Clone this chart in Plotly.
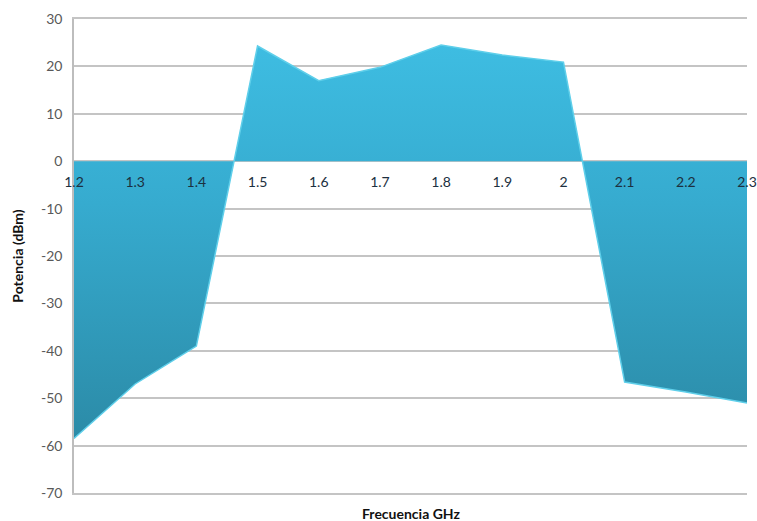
import plotly.graph_objects as go

# Frecuencia (GHz) y potencia medida (dBm)
frecuencia = [1.2, 1.3, 1.4, 1.5, 1.6, 1.7, 1.8, 1.9, 2.0, 2.1, 2.2, 2.3]
potencia = [-58.5, -47, -39, 24.3, 17, 19.8, 24.5, 22.4, 20.9, -46.6, -48.7, -51]
etiquetas_x = ["1.2", "1.3", "1.4", "1.5", "1.6", "1.7", "1.8", "1.9", "2", "2.1", "2.2", "2.3"]
ticks_y = [30, 20, 10, 0, -10, -20, -30, -40, -50, -60, -70]
etiquetas_y = [str(v) for v in ticks_y]

fig = go.Figure()

fig.add_trace(go.Scatter(
    x=frecuencia,
    y=potencia,
    mode="lines",
    fill="tozeroy",
    line=dict(color="#5fcfea", width=1.5),
    fillgradient=dict(
        type="vertical",
        colorscale=[[0, "#2b8aa6"], [0.6, "#36abcf"], [1, "#3ebde2"]],
        start=-60,
        stop=25,
    ),
    hoverinfo="skip",
    showlegend=False,
))

# traza vacía que activa el eje auxiliar x2 (bordes superior e inferior)
fig.add_trace(go.Scatter(x=[], y=[], xaxis="x2", yaxis="y",
                         showlegend=False, hoverinfo="skip"))

fuente = "Lato, 'Open Sans', sans-serif"
gris_rejilla = "#c4c4c4"

fig.update_layout(
    width=757,
    height=521,
    margin=dict(l=74, r=10, t=19, b=28),
    plot_bgcolor="white",
    paper_bgcolor="white",
    font=dict(family=fuente, size=14, color="#595959"),
    xaxis=dict(
        range=[1.2, 2.3],
        tickvals=frecuencia,
        ticktext=etiquetas_x,
        showgrid=False,
        zeroline=False,
        showline=False,
        anchor="free",
        position=0.7,
        ticks="",
        automargin=False,
        ticklabelstandoff=11,
        tickfont=dict(size=14, color="#1c3040", family=fuente),
    ),
    xaxis2=dict(
        range=[1.2, 2.3],
        overlaying="x",
        anchor="y",
        side="bottom",
        showline=True,
        mirror=True,
        linecolor=gris_rejilla,
        linewidth=1.5,
        showgrid=False,
        zeroline=False,
        showticklabels=False,
        ticks="",
        automargin=False,
    ),
    yaxis=dict(
        range=[-70, 30],
        tickvals=ticks_y,
        ticktext=etiquetas_y,
        showgrid=True,
        gridcolor=gris_rejilla,
        gridwidth=1.5,
        zeroline=False,
        showline=True,
        linecolor="#bdbdbd",
        linewidth=1.5,
        ticks="",
        automargin=False,
        ticklabelstandoff=7,
        tickfont=dict(size=14, color="#595959"),
        title=dict(
            text="<b>Potencia (dBm)</b>",
            font=dict(size=14, color="#111111"),
            standoff=14,
        ),
    ),
    annotations=[
        dict(
            text="<b>Frecuencia GHz</b>",
            x=0.5, xref="paper",
            y=-0.044, yref="paper",
            xanchor="center", yanchor="middle",
            showarrow=False,
            font=dict(size=14, color="#111111"),
        )
    ],
)

fig.write_html("out.html")
